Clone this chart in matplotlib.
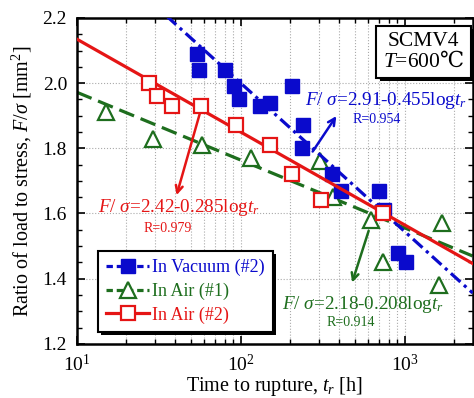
import matplotlib
matplotlib.use("Agg")
import matplotlib.pyplot as plt
import matplotlib.patheffects as pe
from matplotlib.ticker import MultipleLocator, LogLocator, NullFormatter
import numpy as np

plt.rcParams['font.family'] = ['Liberation Serif', 'DejaVu Serif']
plt.rcParams['mathtext.fontset'] = 'custom'
plt.rcParams['mathtext.rm'] = 'Liberation Serif'
plt.rcParams['mathtext.it'] = 'Liberation Serif:italic'
plt.rcParams['mathtext.bf'] = 'Liberation Serif:bold'
plt.rcParams['mathtext.sf'] = 'DejaVu Serif'  # used only for the degree-Celsius sign

# data (time to rupture [h], F/sigma [mm^2])
vac_t = [54, 56, 80, 91, 97, 132, 151, 207, 241, 238, 362, 411, 703, 753, 907, 1014]
vac_r = [2.09, 2.04, 2.04, 1.99, 1.95, 1.93, 1.94, 1.99, 1.87, 1.80, 1.72, 1.67, 1.67, 1.61, 1.48, 1.45]

air1_t = [15, 29, 58, 115, 304, 366, 625, 736, 1620, 1700]
air1_r = [1.91, 1.83, 1.81, 1.77, 1.76, 1.65, 1.58, 1.45, 1.38, 1.57]

air2_t = [27.7, 31, 38, 57, 93, 151, 205, 311, 736]
air2_r = [2.00, 1.96, 1.93, 1.93, 1.87, 1.81, 1.72, 1.64, 1.60]

# regression lines F/sigma = a - b*log(t_r)
fit_a = {'vac': 2.91, 'air1': 2.18, 'air2': 2.42}
fit_b = {'vac': 0.455, 'air1': 0.208, 'air2': 0.285}

labels = ['In Vacuum (#2)', 'In Air (#1)', 'In Air (#2)']
blue, green, red = '#0a0acc', '#1e6e1e', '#e51515'

t_fit = np.logspace(1, np.log10(2600), 50)

fig = plt.figure(figsize=(4.74, 3.98), dpi=100)
ax = fig.add_axes([0.162, 0.136, 0.835, 0.819])

# green: In Air (#1)
ax.plot(t_fit, fit_a['air1'] - fit_b['air1'] * np.log10(t_fit), color=green, lw=2.3,
        dashes=(5, 2.2), zorder=2)
ax.plot(air1_t, air1_r, ls='none', marker='^', ms=11, mfc='white', mec=green, mew=1.6, zorder=3)

# blue: In Vacuum (#2)
ax.plot(t_fit, fit_a['vac'] - fit_b['vac'] * np.log10(t_fit), color=blue, lw=2.3,
        dashes=(4, 1.5, 1, 1.5), zorder=4)
ax.plot(vac_t, vac_r, ls='none', marker='s', ms=10, mfc=blue, mec=blue, zorder=5)

# red: In Air (#2)
ax.plot(t_fit, fit_a['air2'] - fit_b['air2'] * np.log10(t_fit), color=red, lw=2.3, zorder=6)
ax.plot(air2_t, air2_r, ls='none', marker='s', ms=9.5, mfc='white', mec=red, mew=1.6, zorder=7)

# legend proxies
h1, = ax.plot([], [], color=blue, lw=2.3, dashes=(2, 1.2, 2, 1.2), marker='s', ms=10, mfc=blue, mec=blue)
h2, = ax.plot([], [], color=green, lw=2.3, dashes=(2, 1.2), marker='^', ms=11, mfc='white', mec=green, mew=1.6)
h3, = ax.plot([], [], color=red, lw=2.3, marker='s', ms=9.5, mfc='white', mec=red, mew=1.6)
leg = ax.legend([h1, h2, h3], labels, loc='lower left', bbox_to_anchor=(0.053, 0.037),
                borderaxespad=0, fontsize=13, handlelength=2.4, handletextpad=0.15, labelspacing=0.35,
                borderpad=0.45, fancybox=False, framealpha=1, edgecolor='black', numpoints=1)
leg.get_frame().set_linewidth(1.5)
leg.get_frame().set_path_effects([pe.SimplePatchShadow(offset=(2.2, -2.2), shadow_rgbFace='black', alpha=1),
                                  pe.Normal()])
for txt, c in zip(leg.get_texts(), [blue, green, red]):
    txt.set_color(c)
leg.set_zorder(10)

# equations and arrows
ax.text(0.576, 0.748, r'$F$/ $\sigma$=2.91-0.455log$t_r$', transform=ax.transAxes,
        color=blue, fontsize=13.8, ha='left', va='center')
ax.text(0.758, 0.687, 'R=0.954', transform=ax.transAxes, color=blue, fontsize=10, ha='center', va='center')
ax.annotate('', xy=(392, 1.906), xytext=(269, 1.783),
            arrowprops=dict(arrowstyle='->,head_length=0.5,head_width=0.25', color=blue, lw=1.8))

ax.text(0.053, 0.417, r'$F$/ $\sigma$=2.42-0.285log$t_r$', transform=ax.transAxes,
        color=red, fontsize=13.8, ha='left', va='center')
ax.text(0.23, 0.353, 'R=0.979', transform=ax.transAxes, color=red, fontsize=10, ha='center', va='center')
ax.annotate('', xy=(40.2, 1.648), xytext=(57, 1.916),
            arrowprops=dict(arrowstyle='->,head_length=0.5,head_width=0.25', color=red, lw=1.8))

ax.text(0.518, 0.12, r'$F$/ $\sigma$=2.18-0.208log$t_r$', transform=ax.transAxes,
        color=green, fontsize=13.8, ha='left', va='center')
ax.text(0.692, 0.067, 'R=0.914', transform=ax.transAxes, color=green, fontsize=10, ha='center', va='center')
ax.annotate('', xy=(473, 1.380), xytext=(611, 1.555),
            arrowprops=dict(arrowstyle='->,head_length=0.5,head_width=0.25', color=green, lw=1.8))

# condition box
box = ax.text(0.876, 0.896, 'SCMV4\n' + r'$T$=600$\mathsf{℃}$', transform=ax.transAxes, fontsize=15.5,
              ha='center', va='center', linespacing=1.0, zorder=10,
              bbox=dict(boxstyle='square,pad=0.3', fc='white', ec='black', lw=1.5))
box.get_bbox_patch().set_path_effects([pe.SimplePatchShadow(offset=(2.2, -2.2), shadow_rgbFace='black', alpha=1),
                                       pe.Normal()])

# axes
ax.set_xscale('log')
ax.set_xlim(10, 2600)
ax.set_ylim(1.2, 2.2)
ax.yaxis.set_major_locator(MultipleLocator(0.2))
ax.yaxis.set_minor_locator(MultipleLocator(0.05))
ax.xaxis.set_minor_locator(LogLocator(base=10, subs=np.arange(2, 10)))
ax.xaxis.set_minor_formatter(NullFormatter())
ax.yaxis.set_major_formatter(plt.FuncFormatter(lambda v, p: f'{v:.1f}'))

ax.grid(True, which='major', color='#aaaaaa', ls=':', lw=0.8)
ax.grid(True, which='minor', axis='x', color='#aaaaaa', ls=':', lw=0.8)
ax.set_axisbelow(True)

ax.tick_params(which='both', direction='in', top=True, right=True, labelsize=14)
ax.tick_params(which='major', length=6, width=1.2)
ax.tick_params(which='minor', length=3.5, width=1)
ax.tick_params(axis='y', pad=7)
ax.tick_params(axis='x', pad=7)
for s in ax.spines.values():
    s.set_linewidth(1.8)

ax.set_xlabel(r'Time to rupture, $t_r$ [h]', fontsize=14.5, labelpad=0)
ax.set_ylabel(r'Ratio of load to stress, $F$/$\sigma$ [mm$^2$]', fontsize=14.5, labelpad=6)

fig.savefig('out.png', dpi=100)
